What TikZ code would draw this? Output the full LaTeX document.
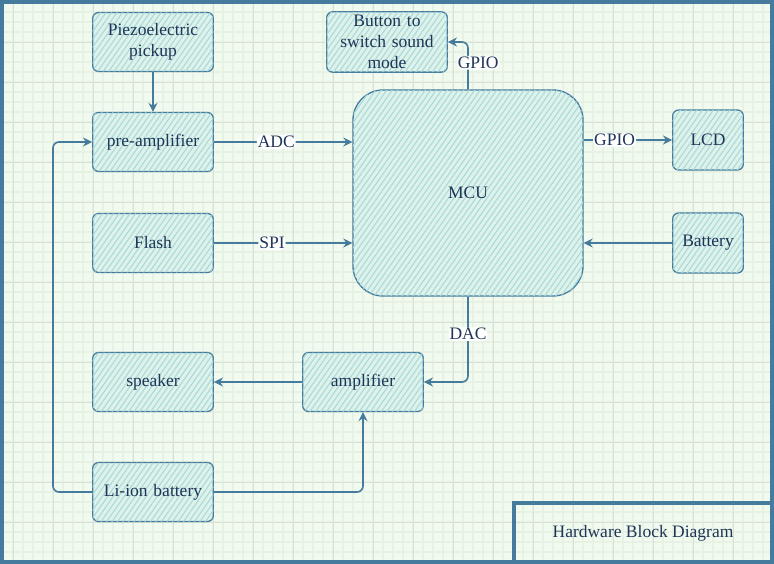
\documentclass[tikz,border=0pt]{standalone}
\usepackage{fontspec}
\setmainfont{Liberation Serif}
\usetikzlibrary{arrows.meta,patterns.meta}

\definecolor{strokeblue}{HTML}{457B9D}
\definecolor{textnavy}{HTML}{1D3557}
\definecolor{hatchteal}{HTML}{A8DADC}
\definecolor{pagebg}{HTML}{F1FAEE}
\definecolor{gridminor}{HTML}{E7F1E4}
\definecolor{gridmajor}{HTML}{D8E0D7}

\tikzset{
  blockbox/.style={rectangle, rounded corners=6pt, draw=strokeblue, line width=1.3pt,
    minimum width=120pt, minimum height=59pt, text width=114pt, align=center,
    text=textnavy, font=\fontsize{17.5}{21}\selectfont, fill=hatchteal!25!pagebg,
    postaction={pattern={Lines[angle=55,distance=4.5pt,line width=1.1pt]}, pattern color=hatchteal}},
  conn/.style={draw=strokeblue, line width=1.6pt, rounded corners=6pt,
    -{Stealth[open,length=9pt,width=9pt]}},
  edgelabel/.style={fill=white, inner sep=1pt, text=textnavy, font=\fontsize{17.5}{21}\selectfont},
  frame/.style={draw=strokeblue, line width=4pt}
}

\begin{document}
\begin{tikzpicture}[x=1pt,y=-1pt]
\useasboundingbox (0,0) rectangle (774,564);
\fill[pagebg] (0,0) rectangle (774,564);

% grid
\foreach \gx in {3,13,...,773} \draw[gridminor, line width=1.2pt] (\gx,0) -- (\gx,564);
\foreach \gy in {2,12,...,562} \draw[gridminor, line width=1.2pt] (0,\gy) -- (774,\gy);
\foreach \gx in {13,53,...,773} \draw[gridmajor, line width=0.8pt] (\gx,0) -- (\gx,564);
\foreach \gy in {2,42,...,562} \draw[gridmajor, line width=0.8pt] (0,\gy) -- (774,\gy);

% blocks
\node (piezo) [blockbox] at (153,42) {Piezoelectric\\pickup};
\node (preamp) [blockbox] at (153,142) {pre-amplifier};
\node (flash) [blockbox] at (153,243) {Flash};
\node (speaker) [blockbox] at (153,382) {speaker};
\node (liion) [blockbox] at (153,492) {Li-ion battery};
\node (amp) [blockbox] at (363,382) {amplifier};
\node (button) [blockbox] at (387,42) {Button to\\switch sound\\mode};
\node (mcu) [blockbox, rounded corners=30pt, minimum width=230pt, minimum height=206pt] at (468,193) {MCU};
\node (lcd) [blockbox, minimum width=70pt, minimum height=60pt, text width=64pt] at (708,140) {LCD};
\node (battery) [blockbox, minimum width=70pt, minimum height=60pt, text width=64pt] at (708,243) {Battery};
\coordinate (rail) at (53,142);

% connectors
\draw[conn] (piezo) -- (preamp);
\draw[conn] (preamp) -- node[edgelabel, pos=0.45] {ADC} (preamp -| mcu.west);
\draw[conn] (flash) -- node[edgelabel, pos=0.42] {SPI} (flash -| mcu.west);
\draw[conn] (mcu.north) |- node[edgelabel, pos=0.28, right=-12pt] {GPIO} (button);
\draw[conn] (mcu.east |- lcd) -- node[edgelabel, pos=0.35] {GPIO} (lcd);
\draw[conn] (battery) -- (battery -| mcu.east);
\draw[conn] (mcu.south) |- node[edgelabel, pos=0.22] {DAC} (amp);
\draw[conn] (amp) -- (speaker);
\draw[conn] (liion) -| (rail) -- (preamp);
\draw[conn] (liion) -| (amp);

% frame and title
\draw[frame] (2,2) rectangle (772,562);
\node (title) [draw=strokeblue, line width=4pt, minimum width=259pt, minimum height=60pt,
  text=textnavy, font=\fontsize{17.5}{21}\selectfont] at (643,533) {Hardware Block Diagram};
\end{tikzpicture}
\end{document}
